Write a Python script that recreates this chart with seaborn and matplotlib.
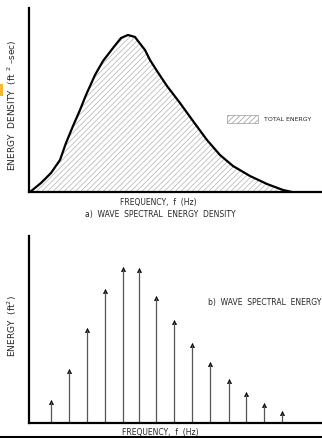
import matplotlib
matplotlib.use("Agg")
import matplotlib.pyplot as plt
import seaborn as sns
import pandas as pd
from matplotlib.patches import Patch, Rectangle
from matplotlib.lines import Line2D

sns.set_style("white")
plt.rcParams['font.family'] = ['Liberation Sans Narrow', 'DejaVu Sans']
plt.rcParams['hatch.color'] = '#9a9a9a'
plt.rcParams['hatch.linewidth'] = 0.5

# (a) spectral energy density curve (arbitrary frequency units)
freq_a = [30, 41, 51, 60, 66, 73, 80, 86, 95, 103, 113, 121, 128, 135, 138, 145, 150,
          157, 167, 180, 193, 207, 220, 233, 250, 267, 283, 292]
density = [0, 9, 19, 32, 49, 66, 82, 97, 117, 131, 144, 154, 157, 155, 151, 142, 132,
           121, 106, 89, 71, 52, 37, 26, 16, 8, 2, 0]

# (b) discrete spectral energy components
freq_b = [51, 69, 87, 105, 123, 139, 156, 174, 192, 210, 229, 246, 264, 282]
energy = [21, 52, 93, 132, 154, 153, 125, 101, 78, 59, 42, 29, 18, 10]

df_a = pd.DataFrame({"f": freq_a, "S": density})
df_b = pd.DataFrame({"f": freq_b, "E": energy})

W, H = 322, 438
fig = plt.figure(figsize=(W / 100, H / 100), dpi=100)

def ax_rect(l, t, r, b):
    return [l / W, 1 - b / H, (r - l) / W, (b - t) / H]

# ---------- top panel ----------
ax1 = fig.add_axes(ax_rect(29, 8, 322, 192))
ax1.fill_between(df_a["f"], 0, df_a["S"], facecolor="white", edgecolor="#b0b0b0",
                 hatch="//////", linewidth=0)
sns.lineplot(data=df_a, x="f", y="S", ax=ax1, color="black", linewidth=1.6)
ax1.set_xlim(29, 322)
ax1.set_ylim(0, 184)
for s in ["top", "right"]:
    ax1.spines[s].set_visible(False)
for s in ["left", "bottom"]:
    ax1.spines[s].set_linewidth(1.6)
    ax1.spines[s].set_color("black")
ax1.set_xticks([])
ax1.set_yticks([])
ax1.set_xlabel("")
ax1.set_ylabel("")
ax1.legend(handles=[Patch(facecolor="white", edgecolor="#9a9a9a", hatch="//////",
                          linewidth=0.5, label="TOTAL ENERGY")],
           loc="center left", bbox_to_anchor=((227 - 29) / 293, (192 - 119) / 184),
           frameon=False, fontsize=4.5, handlelength=5.0,
           handleheight=1.7, handletextpad=0.9, borderaxespad=0, borderpad=0)

fig.text(12 / W, 1 - 105 / H, "ENERGY  DENSITY  (ft $^{2}$ \u2013sec)", rotation=90,
         ha="center", va="center", fontsize=6.5)
fig.text(158 / W, 1 - 203 / H, "FREQUENCY,  f  (Hz)", ha="center", va="center", fontsize=5.5)
fig.text(160 / W, 1 - 214 / H, "a)  WAVE  SPECTRAL  ENERGY  DENSITY", ha="center",
         va="center", fontsize=5.5)

# ---------- bottom panel ----------
ax2 = fig.add_axes(ax_rect(29, 236, 322, 423))
ax2.vlines(df_b["f"], 0, df_b["E"], colors="#555555", linewidth=0.9)
sns.scatterplot(data=df_b, x="f", y="E", ax=ax2, marker="^", color="black", s=10,
                edgecolor="black", linewidth=0.3)
ax2.set_xlim(29, 322)
ax2.set_ylim(0, 187)
for s in ["top", "right"]:
    ax2.spines[s].set_visible(False)
for s in ["left", "bottom"]:
    ax2.spines[s].set_linewidth(1.6)
    ax2.spines[s].set_color("black")
ax2.set_xticks([])
ax2.set_yticks([])
ax2.set_xlabel("")
ax2.set_ylabel("")

fig.text(12 / W, 1 - 326 / H, "ENERGY  (ft$^{2}$)", rotation=90, ha="center", va="center",
         fontsize=6.5)
fig.text(208 / W, 1 - 302 / H, "b)  WAVE  SPECTRAL  ENERGY", ha="left",
         va="center", fontsize=5.5)
fig.text(160 / W, 1 - 432 / H, "FREQUENCY,  f  (Hz)", ha="center", va="center", fontsize=5.5)

# bottom border line and small screenshot artifact
fig.add_artist(Line2D([0, 1], [1 - 436.5 / H, 1 - 436.5 / H], transform=fig.transFigure,
                      color="black", linewidth=1.5))
fig.add_artist(Rectangle((0, 1 - 96 / H), 3 / W, 12 / H, transform=fig.transFigure,
                         facecolor="#f5b82e", edgecolor="none"))

fig.savefig("out.png", dpi=100)
